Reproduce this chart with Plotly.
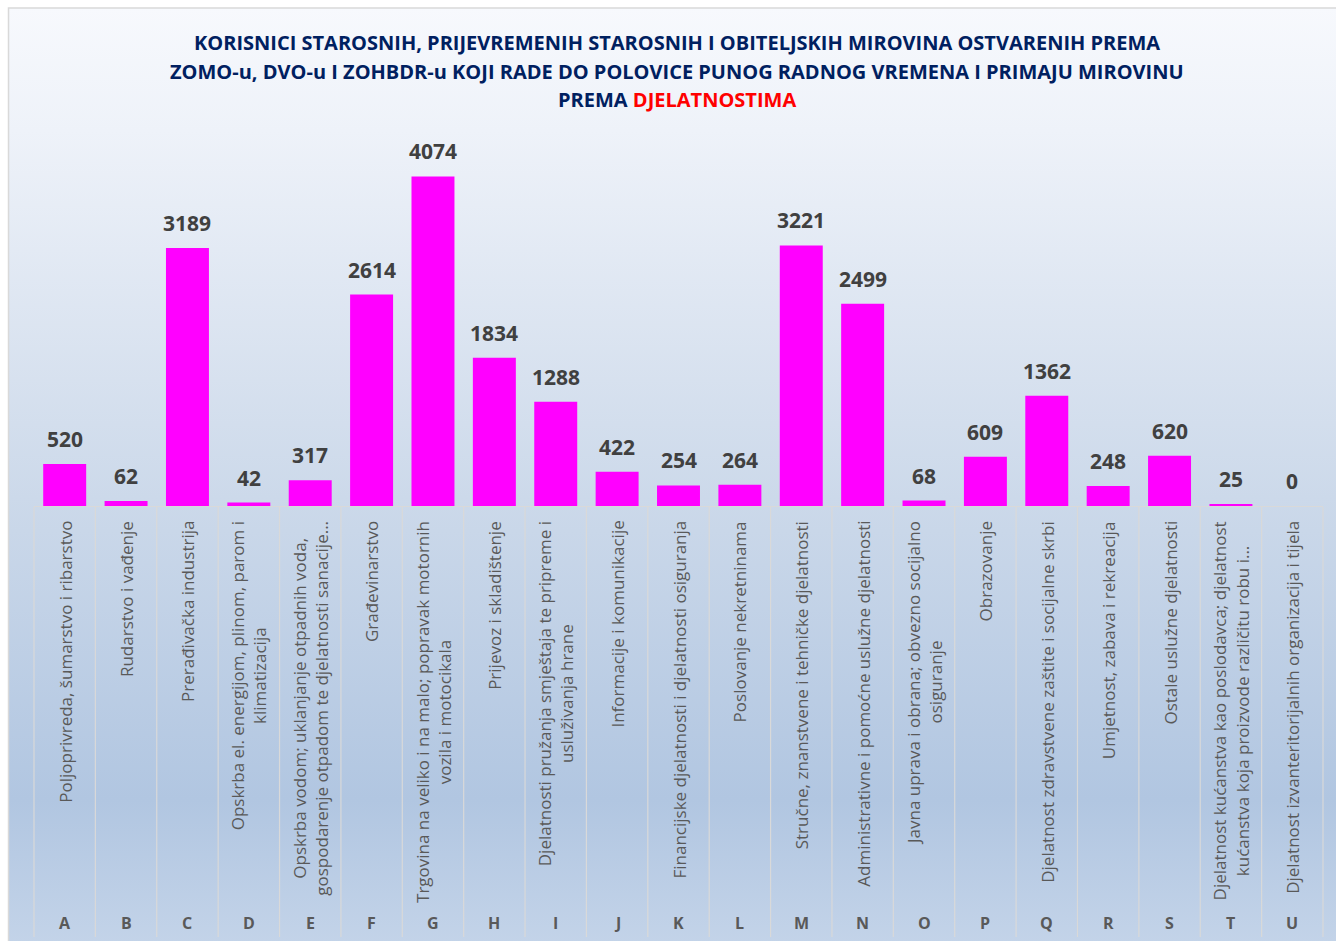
import base64
import plotly.graph_objects as go

# NKD section codes, section names and number of pension beneficiaries
codes = list("ABCDEFGHIJKLMNOPQRSTU")
sections = [
    "Poljoprivreda, šumarstvo i ribarstvo",
    "Rudarstvo i vađenje",
    "Prerađivačka industrija",
    "Opskrba el. energijom, plinom, parom i<br>klimatizacija",
    "Opskrba vodom; uklanjanje otpadnih voda,<br>gospodarenje otpadom te djelatnosti sanacije...",
    "Građevinarstvo",
    "Trgovina na veliko i na malo; popravak motornih<br>vozila i motocikala",
    "Prijevoz i skladištenje",
    "Djelatnosti pružanja smještaja te pripreme i<br>usluživanja hrane",
    "Informacije i komunikacije",
    "Financijske djelatnosti i djelatnosti osiguranja",
    "Poslovanje nekretninama",
    "Stručne, znanstvene i tehničke djelatnosti",
    "Administrativne i pomoćne uslužne djelatnosti",
    "Javna uprava i obrana; obvezno socijalno<br>osiguranje",
    "Obrazovanje",
    "Djelatnost zdravstvene zaštite i socijalne skrbi",
    "Umjetnost, zabava i rekreacija",
    "Ostale uslužne djelatnosti",
    "Djelatnost kućanstva kao poslodavca; djelatnost<br>kućanstva koja proizvode različitu robu i...",
    "Djelatnost izvanteritorijalnih organizacija i tijela",
]
beneficiaries = [520, 62, 3189, 42, 317, 2614, 4074, 1834, 1288, 422,
                 254, 264, 3221, 2499, 68, 609, 1362, 248, 620, 25, 0]

title_lines = [
    "KORISNICI STAROSNIH, PRIJEVREMENIH STAROSNIH I OBITELJSKIH MIROVINA OSTVARENIH PREMA",
    "ZOMO-u, DVO-u I ZOHBDR-u KOJI RADE DO POLOVICE PUNOG RADNOG VREMENA I PRIMAJU MIROVINU",
    "PREMA <span style='color:#FF0000'>DJELATNOSTIMA</span>",
]

W, H = 1336, 941
L, R, T, B = 33.5, 1323, 142, 506  # plot area in pixels


def px(x):
    return (x - L) / (R - L)


def py(y):
    return (B - y) / (B - T)


FONT = "Open Sans"
LABEL_GREY = "#595959"

fig = go.Figure()
fig.add_trace(go.Bar(
    x=codes, y=beneficiaries, width=0.7,
    marker=dict(color="#FF00FF", line=dict(width=0)),
    hoverinfo="skip",
))

annotations = []
# value labels above bars
for c, v in zip(codes, beneficiaries):
    annotations.append(dict(
        x=c, y=v, xref="x", yref="y", text=f"<b>{v}</b>", showarrow=False,
        yanchor="bottom", yshift=9,
        font=dict(family=FONT, size=21, color="#404040"),
    ))
# rotated section names and section codes
for c, s in zip(codes, sections):
    annotations.append(dict(
        x=c, y=py(519), xref="x", yref="paper", text=s, showarrow=False,
        textangle=-90, xanchor="center", yanchor="top", align="center",
        font=dict(family=FONT, size=17, color=LABEL_GREY),
    ))
    annotations.append(dict(
        x=c, y=py(923), xref="x", yref="paper", text=f"<b>{c}</b>",
        showarrow=False, yanchor="middle",
        font=dict(family=FONT, size=16, color=LABEL_GREY),
    ))
# title
for i, line in enumerate(title_lines):
    annotations.append(dict(
        x=px(677), y=py(42 + 29 * i), xref="paper", yref="paper",
        text=f"<b>{line}</b>", showarrow=False, xanchor="center", yanchor="middle",
        font=dict(family=FONT, size=20, color="#002060"),
    ))

# category separators in the label area and baseline
n = len(codes)
shapes = []
for k in range(n + 1):
    shapes.append(dict(
        type="line", xref="paper", yref="paper",
        x0=k / n, x1=k / n, y0=py(507), y1=py(937),
        line=dict(color="#D9D9D9", width=1.2),
    ))
shapes.append(dict(
    type="line", xref="paper", yref="paper", x0=0, x1=1, y0=py(506.5), y1=py(506.5),
    line=dict(color="#D9D9D9", width=1),
))
# chart frame
shapes.append(dict(
    type="rect", xref="paper", yref="paper",
    x0=px(8), x1=px(1345), y0=py(8), y1=py(950),
    line=dict(color="#D9D9D9", width=1.5), fillcolor="rgba(0,0,0,0)", layer="above",
))

# vertical background gradient of the chart area
svg = (
    "<svg xmlns='http://www.w3.org/2000/svg' width='100' height='100' preserveAspectRatio='none'>"
    "<defs><linearGradient id='g' x1='0' y1='0' x2='0' y2='1'>"
    "<stop offset='0' stop-color='#F7F9FD'/>"
    "<stop offset='0.13' stop-color='#EEF2F9'/>"
    "<stop offset='0.52' stop-color='#CCD9EA'/>"
    "<stop offset='0.84' stop-color='#B1C6E1'/>"
    "<stop offset='1' stop-color='#C4D4E9'/>"
    "</linearGradient></defs>"
    "<rect width='100' height='100' fill='url(#g)'/></svg>"
)
bg = "data:image/svg+xml;base64," + base64.b64encode(svg.encode()).decode()

fig.update_layout(
    width=W, height=H,
    margin=dict(l=L, r=W - R, t=T, b=H - B, pad=0),
    paper_bgcolor="white", plot_bgcolor="rgba(0,0,0,0)",
    showlegend=False,
    xaxis=dict(range=[-0.5, n - 0.5], showticklabels=False, showgrid=False,
               zeroline=False, showline=False, ticks="", fixedrange=True),
    yaxis=dict(range=[0, 4500], visible=False, showgrid=False, zeroline=False,
               fixedrange=True),
    annotations=annotations,
    shapes=shapes,
    images=[dict(
        source=bg, xref="paper", yref="paper",
        x=px(8), y=py(8), sizex=px(1345) - px(8), sizey=py(8) - py(950),
        xanchor="left", yanchor="top", sizing="stretch", layer="below",
    )],
)

fig.write_html("out.html", config={"displayModeBar": False})
